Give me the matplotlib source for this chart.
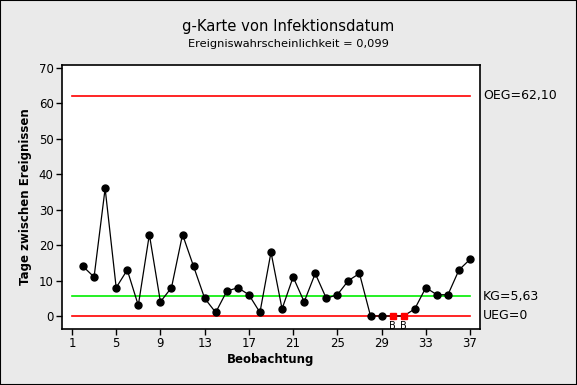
import matplotlib
matplotlib.use("Agg")
import matplotlib.pyplot as plt
from matplotlib.patches import Rectangle

observations = list(range(2, 38))
days_between = [14, 11, 36, 8, 13, 3, 23, 4, 8, 23, 14, 5, 1, 7, 8, 6, 1, 18,
                2, 11, 4, 12, 5, 6, 10, 12, 0, 0, 0, 0, 2, 8, 6, 6, 13, 16]
flagged = [30, 31]
flag_labels = ["B", "B"]
ucl = 62.10
cl = 5.63
lcl = 0.0
ucl_label = "OEG=62,10"
cl_label = "KG=5,63"
lcl_label = "UEG=0"
xticks = [1, 5, 9, 13, 17, 21, 25, 29, 33, 37]
yticks = [0, 10, 20, 30, 40, 50, 60, 70]

W, H = 577, 385
fig = plt.figure(figsize=(W / 100, H / 100), dpi=100)
bg = "#EAEAEA"
fig.patch.set_facecolor(bg)
fig.patches.append(Rectangle((0, 0), 1, 1, transform=fig.transFigure,
                             fill=False, edgecolor="black", linewidth=1.5))

ax = fig.add_axes([62 / W, 1 - 329 / H, (480 - 62) / W, (329 - 65) / H])
ax.set_facecolor("white")

ax.plot([1, 37], [ucl, ucl], color="#FF0000", lw=1.2, zorder=1)
ax.plot([1, 37], [lcl, lcl], color="#FF0000", lw=1.2, zorder=1)
ax.plot([1, 37], [cl, cl], color="#00EE00", lw=1.2, zorder=1)

ax.plot(observations, days_between, color="black", lw=0.9, zorder=2)
normal_x = [x for x in observations if x not in flagged]
normal_y = [y for x, y in zip(observations, days_between) if x not in flagged]
ax.plot(normal_x, normal_y, "o", color="black", ms=5, zorder=3)
fy = [days_between[observations.index(x)] for x in flagged]
ax.plot(flagged, fy, "s", color="#FF0000", ms=5, zorder=3)
for x, y, t in zip(flagged, fy, flag_labels):
    ax.text(x, y - 1.5, t, ha="center", va="top", fontsize=7)

ax.set_xlim(0.1, 37.9)
ax.set_ylim(-3.67, 70.85)
ax.set_xticks(xticks)
ax.set_yticks(yticks)
ax.tick_params(direction="out", length=4, width=1, labelsize=8.5, pad=2)
for s in ax.spines.values():
    s.set_linewidth(1.2)

for val, lab in [(ucl, ucl_label), (cl, cl_label), (lcl, lcl_label)]:
    ax.annotate(lab, xy=(1, val), xycoords=("axes fraction", "data"),
                xytext=(2, 0), textcoords="offset points",
                ha="left", va="center", fontsize=9)

ax.set_xlabel("Beobachtung", fontsize=8.5, fontweight="bold", labelpad=2)
ax.set_ylabel("Tage zwischen Ereignissen", fontsize=8.5, fontweight="bold", labelpad=5)

fig.text(0.5, 1 - 27 / H, "g-Karte von Infektionsdatum",
         ha="center", va="center", fontsize=10.6)
fig.text(0.5, 1 - 44 / H, "Ereigniswahrscheinlichkeit = 0,099",
         ha="center", va="center", fontsize=8.2)

fig.savefig("out.png", dpi=100, facecolor=bg)
